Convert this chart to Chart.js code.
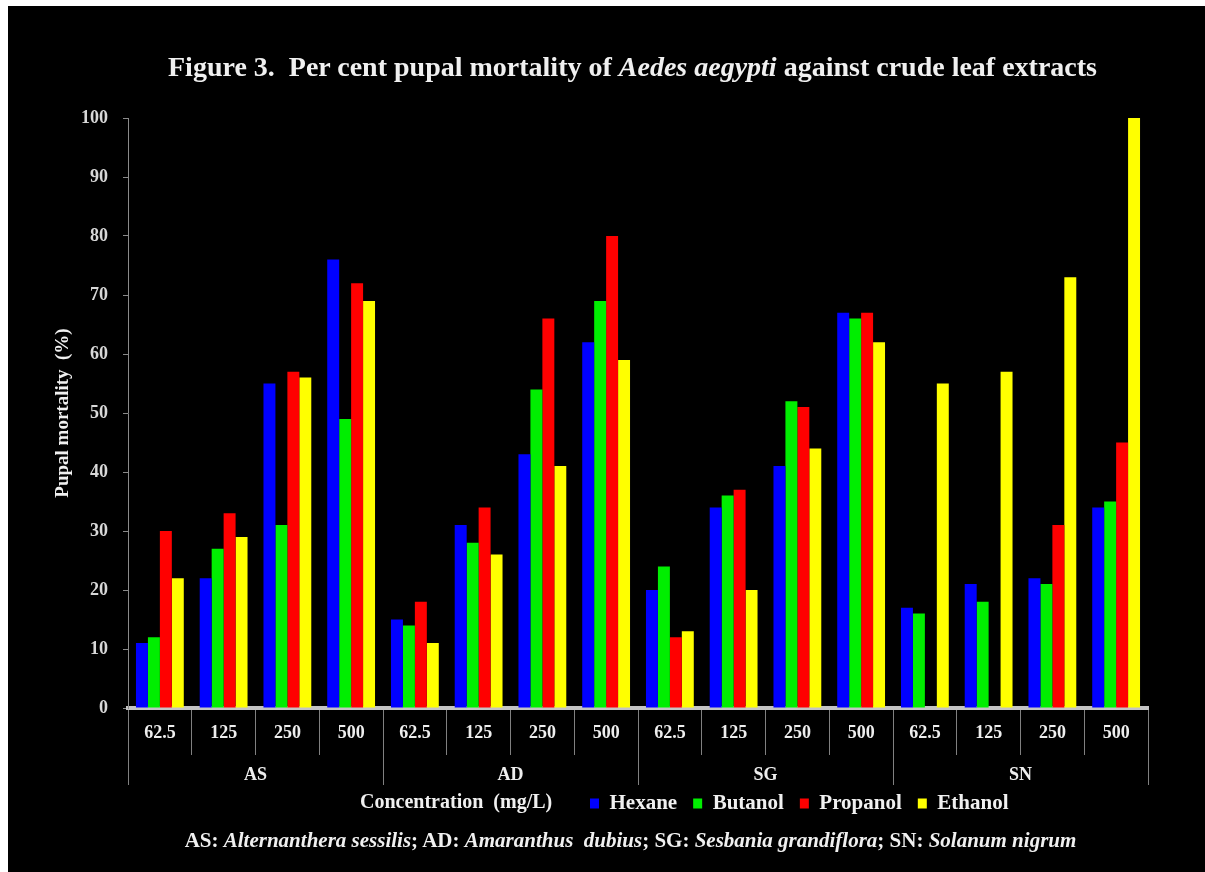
<!DOCTYPE html>
<html><head><meta charset="utf-8">
<script src="https://cdn.jsdelivr.net/npm/chart.js@4.4.0/dist/chart.umd.min.js"></script>
<style>
html,body{margin:0;padding:0;background:#fff;width:1205px;height:872px;overflow:hidden}
#frame{position:absolute;left:8px;top:6px;width:1197px;height:866px;background:#000}
#chartBox{position:absolute;left:0;top:0;width:1197px;height:866px}
.txt{position:absolute;color:#f0f0f0;font-family:'Liberation Serif','Times New Roman',serif;font-weight:bold;white-space:nowrap;line-height:1.15}
#title{left:52px;width:1145px;text-align:center;top:45px;font-size:28px}
#xtitle{left:352px;top:784px;font-size:20px}
#foot{left:48px;width:1149px;text-align:center;top:822px;font-size:21px}
</style></head>
<body>
<div id="frame">
  <div id="chartBox"><canvas id="c"></canvas></div>
  <div id="title" class="txt">Figure 3.&nbsp; Per cent pupal mortality of <i>Aedes aegypti</i> against crude leaf extracts</div>
  <div id="xtitle" class="txt">Concentration&nbsp; (mg/L)</div>
  <div id="foot" class="txt">AS: <i>Alternanthera sessilis</i>; AD: <i>Amaranthus&nbsp; dubius</i>; SG: <i>Sesbania grandiflora</i>; SN: <i>Solanum nigrum</i></div>
</div>
<script>
const species = ['AS', 'AD', 'SG', 'SN'];
const concentrations = ['62.5', '125', '250', '500'];
const seriesNames = ['Hexane', 'Butanol', 'Propanol', 'Ethanol'];
const hexane   = [11, 22, 55, 76, 15, 31, 43, 62, 20, 34, 41, 67, 17, 21, 22, 34];
const butanol  = [12, 27, 31, 49, 14, 28, 54, 69, 24, 36, 52, 66, 16, 18, 21, 35];
const propanol = [30, 33, 57, 72, 18, 34, 66, 80, 12, 37, 51, 67, 0, 0, 31, 45];
const ethanol  = [22, 29, 56, 69, 11, 26, 41, 59, 13, 20, 44, 62, 55, 57, 73, 100];
const yTicks = [0, 10, 20, 30, 40, 50, 60, 70, 80, 90, 100];

const colors = ['#0000ff', '#00ee00', '#ff0000', '#ffff00'];
const seriesValues = [hexane, butanol, propanol, ethanol];
const labels = species.flatMap(() => concentrations);
const FONT = "'Liberation Serif', 'Times New Roman', serif";

const legendShift = {
  id: 'legendShift',
  afterLayout(chart) {
    const lg = chart.legend;
    if (!lg) return;
    const dx = 582 - (lg.left + lg.options.labels.padding);
    const dy = -10;
    lg.left += dx; lg.right += dx;
    lg.top += dy; lg.bottom += dy;
  }
};

new Chart(document.getElementById('c'), {
  type: 'bar',
  data: {
    labels: labels,
    datasets: seriesNames.map((n, i) => ({
      label: n,
      data: seriesValues[i],
      backgroundColor: colors[i],
      borderWidth: 0,
      categoryPercentage: 0.75,
      barPercentage: 1.0
    }))
  },
  plugins: [legendShift],
  options: {
    responsive: true,
    maintainAspectRatio: false,
    animation: false,
    layout: { padding: { top: 112, left: 44, right: 57, bottom: 38 } },
    plugins: {
      title: { display: false },
      tooltip: { enabled: false },
      legend: {
        display: true,
        position: 'bottom',
        align: 'start',
        labels: {
          boxWidth: 9, boxHeight: 10, padding: 16,
          color: '#f0f0f0',
          font: { family: FONT, size: 21, weight: 'bold' }
        }
      }
    },
    scales: {
      x: {
        type: 'category',
        position: 'bottom',
        offset: true,
        afterFit(scale) { scale.height = 47; },
        grid: { display: true, offset: true, drawOnChartArea: false, drawTicks: true, tickLength: 47, color: '#808080', lineWidth: 1 },
        border: { display: true, color: '#c4c4c4', width: 4 },
        ticks: { color: '#eeeeee', padding: -32, maxRotation: 0, autoSkip: false, font: { family: FONT, size: 18, weight: 'bold' } }
      },
      x2: {
        type: 'category',
        position: 'bottom',
        labels: species,
        offset: true,
        afterFit(scale) { scale.height = 32; },
        grid: { display: true, offset: true, drawOnChartArea: false, drawTicks: true, tickLength: 30, color: '#808080', lineWidth: 1 },
        border: { display: false },
        ticks: { color: '#eeeeee', padding: -20, maxRotation: 0, autoSkip: false, font: { family: FONT, size: 18, weight: 'bold' } }
      },
      y: {
        min: 0, max: 100,
        afterBuildTicks(scale) { scale.ticks = yTicks.map(v => ({ value: v })); },
        afterFit(scale) { scale.width = 76; },
        grid: { display: true, drawOnChartArea: false, drawTicks: true, tickLength: 5, color: '#8a8a8a' },
        border: { display: true, color: '#8a8a8a', width: 1 },
        ticks: { color: '#d8d8d8', padding: 15, font: { family: FONT, size: 18, weight: 'bold' } },
        title: { display: true, text: 'Pupal mortality  (%)', color: '#f0f0f0', padding: { top: 0, bottom: 0 }, font: { family: FONT, size: 19, weight: 'bold' } }
      }
    }
  }
});
</script>
</body></html>
